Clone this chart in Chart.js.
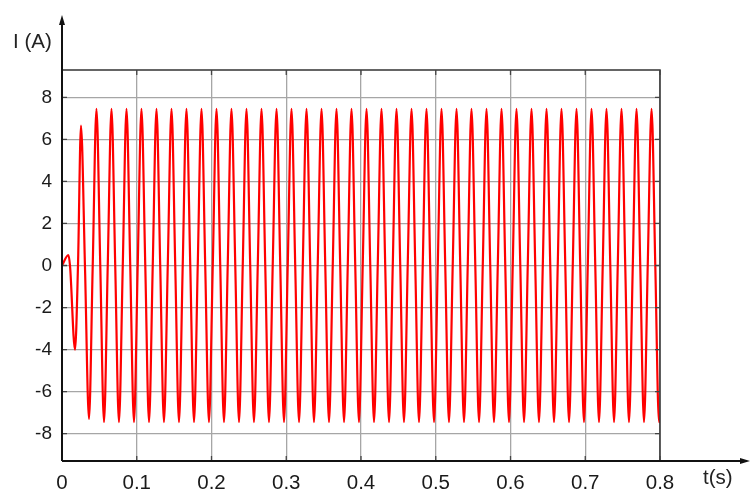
<!DOCTYPE html>
<html>
<head>
<meta charset="utf-8">
<script src="https://cdn.jsdelivr.net/npm/chart.js@4/dist/chart.umd.min.js"></script>
<style>
  html, body { margin: 0; padding: 0; background: #fff; }
  #box { width: 750px; height: 489px; }
</style>
</head>
<body>
<div id="box"><canvas id="myChart" width="750" height="489"></canvas></div>
<script>
// time in seconds (start transient, then troughs / zero / peaks)
const time = [
  0, 0.0085, 0.0107, 0.0174, 0.0214, 0.0254, 0.0307,
  0.0361, 0.0411, 0.0461, 0.0512,
  0.0562, 0.0612, 0.0662, 0.0712,
  0.0762, 0.0813, 0.0863, 0.0913,
  0.0963, 0.1013, 0.1063, 0.1114,
  0.1164, 0.1214, 0.1264, 0.1314,
  0.1364, 0.1415, 0.1465, 0.1515,
  0.1565, 0.1615, 0.1665, 0.1716,
  0.1766, 0.1816, 0.1866, 0.1916,
  0.1966, 0.2017, 0.2067, 0.2117,
  0.2167, 0.2217, 0.2267, 0.2318,
  0.2368, 0.2418, 0.2468, 0.2518,
  0.2568, 0.2619, 0.2669, 0.2719,
  0.2769, 0.2819, 0.2870, 0.2920,
  0.2970, 0.3020, 0.3070, 0.3120,
  0.3171, 0.3221, 0.3271, 0.3321,
  0.3371, 0.3421, 0.3472, 0.3522,
  0.3572, 0.3622, 0.3672, 0.3722,
  0.3773, 0.3823, 0.3873, 0.3923,
  0.3973, 0.4023, 0.4074, 0.4124,
  0.4174, 0.4224, 0.4274, 0.4324,
  0.4375, 0.4425, 0.4475, 0.4525,
  0.4575, 0.4625, 0.4676, 0.4726,
  0.4776, 0.4826, 0.4876, 0.4926,
  0.4977, 0.5027, 0.5077, 0.5127,
  0.5177, 0.5227, 0.5278, 0.5328,
  0.5378, 0.5428, 0.5478, 0.5529,
  0.5579, 0.5629, 0.5679, 0.5729,
  0.5779, 0.5830, 0.5880, 0.5930,
  0.5980, 0.6030, 0.6080, 0.6131,
  0.6181, 0.6231, 0.6281, 0.6331,
  0.6381, 0.6432, 0.6482, 0.6532,
  0.6582, 0.6632, 0.6682, 0.6733,
  0.6783, 0.6833, 0.6883, 0.6933,
  0.6983, 0.7034, 0.7084, 0.7134,
  0.7184, 0.7234, 0.7284, 0.7335,
  0.7385, 0.7435, 0.7485, 0.7535,
  0.7585, 0.7636, 0.7686, 0.7736,
  0.7786, 0.7836, 0.7887, 0.7937,
  0.7987, 0.8
];

// current in amperes
const current = [
  0, 0.5, 0, -4.0, 0, 6.65, 0,
  -7.3, 0, 7.45, 0,
  -7.45, 0, 7.45, 0,
  -7.45, 0, 7.45, 0,
  -7.45, 0, 7.45, 0,
  -7.45, 0, 7.45, 0,
  -7.45, 0, 7.45, 0,
  -7.45, 0, 7.45, 0,
  -7.45, 0, 7.45, 0,
  -7.45, 0, 7.45, 0,
  -7.45, 0, 7.45, 0,
  -7.45, 0, 7.45, 0,
  -7.45, 0, 7.45, 0,
  -7.45, 0, 7.45, 0,
  -7.45, 0, 7.45, 0,
  -7.45, 0, 7.45, 0,
  -7.45, 0, 7.45, 0,
  -7.45, 0, 7.45, 0,
  -7.45, 0, 7.45, 0,
  -7.45, 0, 7.45, 0,
  -7.45, 0, 7.45, 0,
  -7.45, 0, 7.45, 0,
  -7.45, 0, 7.45, 0,
  -7.45, 0, 7.45, 0,
  -7.45, 0, 7.45, 0,
  -7.45, 0, 7.45, 0,
  -7.45, 0, 7.45, 0,
  -7.45, 0, 7.45, 0,
  -7.45, 0, 7.45, 0,
  -7.45, 0, 7.45, 0,
  -7.45, 0, 7.45, 0,
  -7.45, 0, 7.45, 0,
  -7.45, 0, 7.45, 0,
  -7.45, 0, 7.45, 0,
  -7.45, 0, 7.45, 0,
  -7.45, 0, 7.45, 0,
  -7.45, 0, 7.45, 0,
  -7.45, 0, 7.45, 0,
  -7.45, 0, 7.45, 0,
  -7.45, -7.4
];

const xTicks = [0, 0.1, 0.2, 0.3, 0.4, 0.5, 0.6, 0.7, 0.8];
const yTicks = [-8, -6, -4, -2, 0, 2, 4, 6, 8];

const yLabel = 'I (A)';
const xLabel = 't(s)';

const points = time.map((t, i) => ({ x: t, y: current[i] }));

// axes with arrows, box border, inner tick marks and the two axis names
const frame = {
  id: 'frame',
  afterDatasetsDraw(chart) {
    const ctx = chart.ctx;
    const a = chart.chartArea;
    const sx = chart.scales.x, sy = chart.scales.y;
    ctx.save();
    // top + right border
    ctx.strokeStyle = '#333';
    ctx.lineWidth = 1.5;
    ctx.beginPath();
    ctx.moveTo(a.left, a.top);
    ctx.lineTo(a.right, a.top);
    ctx.lineTo(a.right, a.bottom);
    ctx.stroke();
    // small inner ticks on all four sides
    ctx.strokeStyle = '#444';
    ctx.lineWidth = 1.3;
    ctx.beginPath();
    xTicks.forEach(v => {
      const px = sx.getPixelForValue(v);
      ctx.moveTo(px, a.bottom); ctx.lineTo(px, a.bottom - 5);
      ctx.moveTo(px, a.top); ctx.lineTo(px, a.top + 5);
    });
    yTicks.forEach(v => {
      const py = sy.getPixelForValue(v);
      ctx.moveTo(a.left, py); ctx.lineTo(a.left + 5, py);
      ctx.moveTo(a.right, py); ctx.lineTo(a.right - 5, py);
    });
    ctx.stroke();
    // axes
    ctx.strokeStyle = '#111';
    ctx.lineWidth = 2;
    ctx.beginPath();
    ctx.moveTo(a.left, a.bottom);
    ctx.lineTo(a.left, 22);
    ctx.moveTo(a.left, a.bottom);
    ctx.lineTo(744, a.bottom);
    ctx.stroke();
    // arrow heads
    ctx.fillStyle = '#111';
    ctx.beginPath();
    ctx.moveTo(a.left, 15);
    ctx.lineTo(a.left - 3, 25);
    ctx.lineTo(a.left + 3, 25);
    ctx.closePath();
    ctx.fill();
    ctx.beginPath();
    ctx.moveTo(750, a.bottom);
    ctx.lineTo(740, a.bottom - 3);
    ctx.lineTo(740, a.bottom + 3);
    ctx.closePath();
    ctx.fill();
    // names
    ctx.fillStyle = '#222';
    ctx.font = '20.5px "Liberation Sans"';
    ctx.textBaseline = 'middle';
    ctx.textAlign = 'left';
    ctx.fillText(yLabel, 13, 42);
    ctx.fillText(xLabel, 703, 478);
    ctx.restore();
  }
};

const config = {
  type: 'line',
  data: {
    datasets: [{
      label: 'I',
      data: points,
      borderColor: '#ff0000',
      borderWidth: 2.2,
      pointRadius: 0,
      cubicInterpolationMode: 'monotone',
      fill: false,
    }]
  },
  options: {
    responsive: false,
    animation: false,
    devicePixelRatio: 1,
    layout: { padding: { left: 0, top: 70, right: 90, bottom: 0 } },
    plugins: {
      legend: { display: false },
      tooltip: { enabled: false },
    },
    scales: {
      x: {
        type: 'linear',
        min: 0,
        max: 0.8,
        afterBuildTicks: s => { s.ticks = xTicks.map(v => ({ value: v })); },
        afterFit: s => { s.height = 28; },
        border: { display: false },
        grid: { color: '#a6a6a6', lineWidth: 1.3, drawTicks: false },
        ticks: {
          font: { family: 'Liberation Sans', size: 20.5 },
          color: '#1a1a1a',
          padding: 10,
          maxRotation: 0,
          callback: v => String(+v.toFixed(1)),
        },
      },
      y: {
        min: -9.3,
        max: 9.3,
        afterBuildTicks: s => { s.ticks = yTicks.map(v => ({ value: v })); },
        afterFit: s => { s.width = 62; },
        border: { display: false },
        grid: { color: '#a6a6a6', lineWidth: 1.3, drawTicks: false },
        ticks: {
          font: { family: 'Liberation Sans', size: 19 },
          color: '#1a1a1a',
          padding: 10,
          callback: v => String(v),
        },
      },
    },
  },
  plugins: [frame],
};

const myChart = new Chart(document.getElementById('myChart'), config);
</script>
</body>
</html>
